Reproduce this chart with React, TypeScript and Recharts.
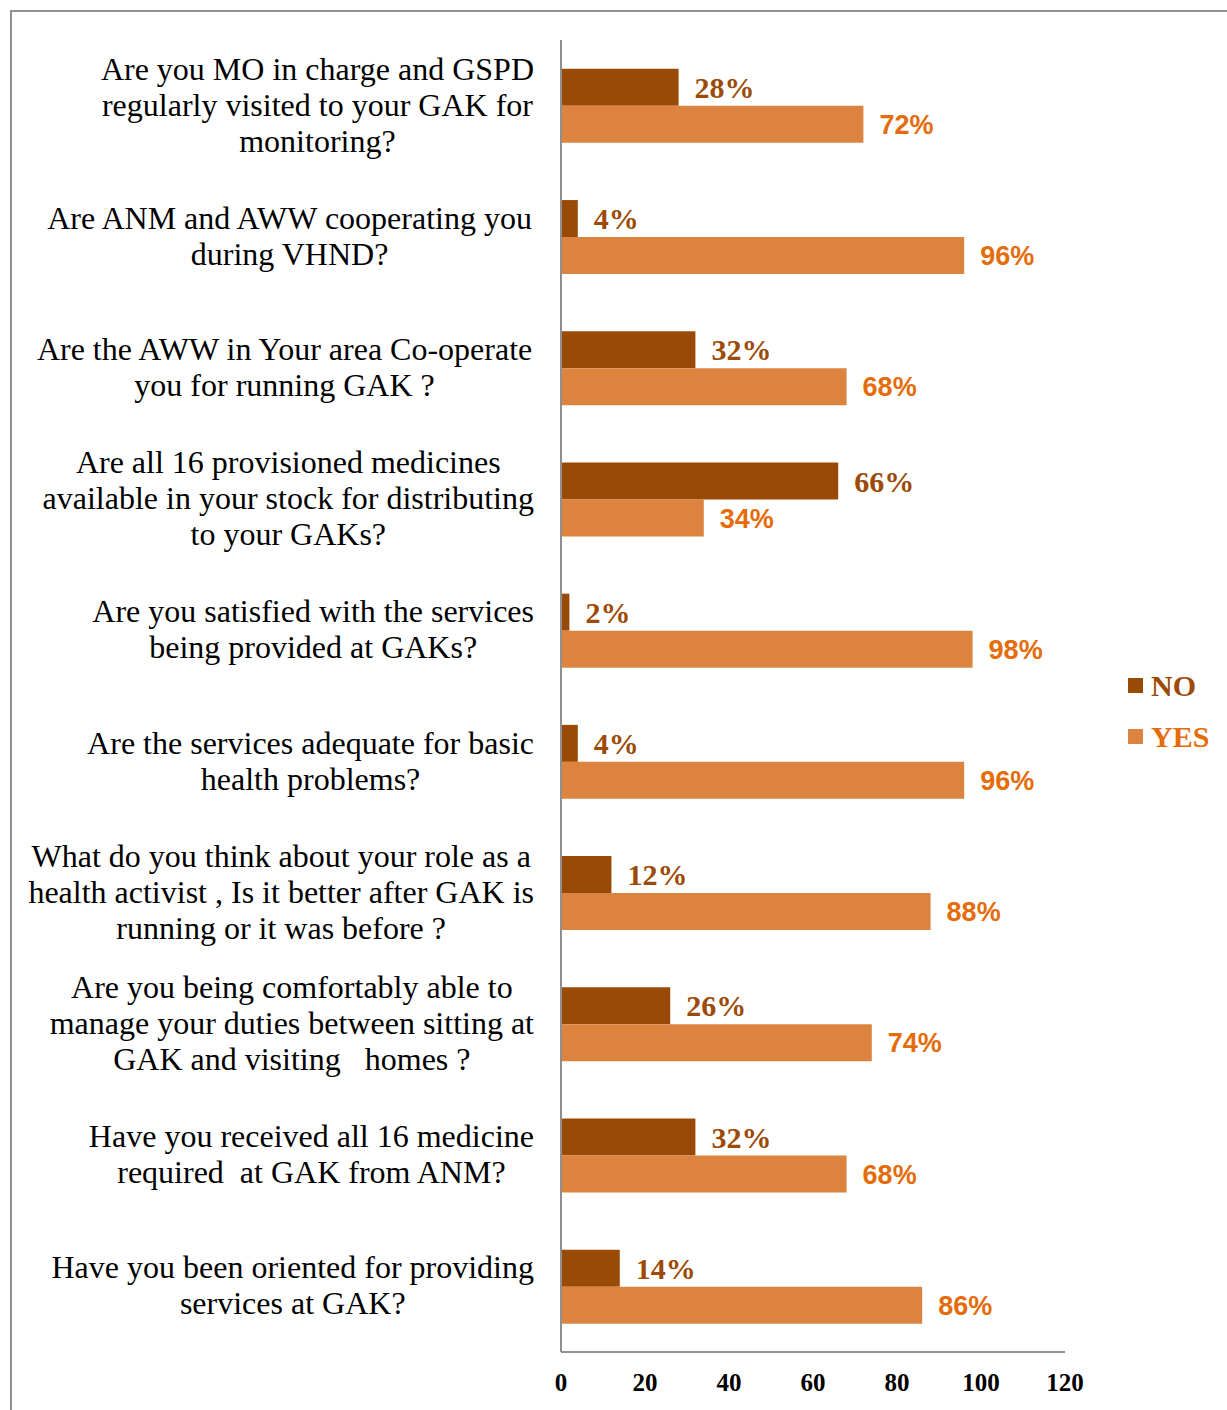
import React from "react";
import { BarChart, Bar, XAxis, YAxis, LabelList, Legend } from "recharts";

const categories = [
  "Are you MO in charge and GSPD\nregularly visited to your GAK for\nmonitoring?",
  "Are ANM and AWW cooperating you\nduring VHND?",
  "Are the AWW in Your area Co-operate\nyou for running GAK ?",
  "Are all 16 provisioned medicines\navailable in your stock for distributing\nto your GAKs?",
  "Are you satisfied with the services\nbeing provided at GAKs?",
  "Are the services adequate for basic\nhealth problems?",
  "What do you think about your role as a\nhealth activist , Is it better after GAK is\nrunning or it was before ?",
  "Are you being comfortably able to\nmanage your duties between sitting at\nGAK and visiting   homes ?",
  "Have you received all 16 medicine\nrequired  at GAK from ANM?",
  "Have you been oriented for providing\nservices at GAK?",
];

const noValues = [28, 4, 32, 66, 2, 4, 12, 26, 32, 14];
const yesValues = [72, 96, 68, 34, 98, 96, 88, 74, 68, 86];
const xTicks = [0, 20, 40, 60, 80, 100, 120];
const seriesNames = ["NO", "YES"];

const data = categories.map((c, i) => ({ name: c, no: noValues[i], yes: yesValues[i] }));

const NO_COLOR = "#9A4A07";
const YES_COLOR = "#DC843F";
const NO_TEXT = "#9C4A06";
const YES_TEXT = "#E46C0A";
const SERIF = "'Liberation Serif', 'Times New Roman', serif";
const SANS = "'Liberation Sans', Arial, sans-serif";

const LABEL_FONT_SIZE = 32;
const LABEL_RIGHT = 534;
const LINE_H = 36;

let ctx: CanvasRenderingContext2D | null = null;
function measure(text: string, font: string): number {
  if (!ctx) {
    const c = document.createElement("canvas");
    ctx = c.getContext("2d");
  }
  if (!ctx) return text.length * 14;
  ctx.font = font;
  return ctx.measureText(text).width;
}

const CategoryTick = (props: any) => {
  const { y, payload } = props;
  const lines: string[] = String(payload.value).split("\n");
  const font = `${LABEL_FONT_SIZE}px 'Liberation Serif'`;
  const maxW = Math.max(...lines.map((l) => measure(l, font)));
  const cx = LABEL_RIGHT - maxW / 2;
  const startY = y - 1 - ((lines.length - 1) * LINE_H) / 2;
  return (
    <g>
      {lines.map((l, i) => (
        <text
          key={i}
          x={cx}
          y={startY + i * LINE_H}
          textAnchor="middle"
          dominantBaseline="central"
          fontFamily={SERIF}
          fontSize={LABEL_FONT_SIZE}
          fill="#000"
          style={{ whiteSpace: "pre" }}
        >
          {l}
        </text>
      ))}
    </g>
  );
};

const NumberTick = (props: any) => {
  const { x, y, payload } = props;
  return (
    <text
      x={x}
      y={y + 22}
      textAnchor="middle"
      dominantBaseline="central"
      fontFamily={SERIF}
      fontWeight="bold"
      fontSize={25}
      fill="#000"
    >
      {payload.value}
    </text>
  );
};

const LegendContent = () => (
  <div style={{ display: "flex", flexDirection: "column", gap: 0 }}>
    {seriesNames.map((n, i) => (
      <div key={n} style={{ display: "flex", alignItems: "center", height: 51 }}>
        <div style={{ width: 15, height: 15, background: i === 0 ? NO_COLOR : YES_COLOR, marginRight: 8 }} />
        <span
          style={{
            fontFamily: SERIF,
            fontWeight: "bold",
            fontSize: 30,
            color: i === 0 ? NO_TEXT : YES_TEXT,
            lineHeight: "30px",
          }}
        >
          {n}
        </span>
      </div>
    ))}
  </div>
);

export default function App() {
  return (
    <div
      style={{
        position: "absolute",
        left: 0,
        top: 0,
        width: 1227,
        height: 1410,
        overflow: "hidden",
        background: "#fff",
      }}
    >
      <div
        style={{
          position: "absolute",
          left: 10,
          top: 10,
          width: 1400,
          height: 1600,
          border: "2px solid #8f8f8f",
        }}
      />
      <div style={{ position: "absolute", left: 0, top: 0 }}>
        <BarChart
          width={1227}
          height={1410}
          data={data}
          layout="vertical"
          margin={{ top: 40, right: 162, bottom: 28, left: 0 }}
          barCategoryGap="22%"
          barGap={0}
        >
          <XAxis
            type="number"
            domain={[0, 120]}
            ticks={xTicks}
            tickLine={false}
            axisLine={{ stroke: "#8f8f8f", strokeWidth: 2 }}
            tick={<NumberTick />}
            height={30}
          />
          <YAxis
            type="category"
            dataKey="name"
            width={561}
            tickLine={false}
            axisLine={{ stroke: "#8f8f8f", strokeWidth: 2 }}
            tick={<CategoryTick />}
            interval={0}
          />
          <Legend
            layout="horizontal"
            verticalAlign="middle"
            align="center"
            content={<LegendContent />}
            wrapperStyle={{ position: "absolute", left: 1128, top: 660, width: 99 }}
          />
          <Bar dataKey="no" name="NO" fill={NO_COLOR} isAnimationActive={false}>
            <LabelList
              dataKey="no"
              position="right"
              offset={16}
              formatter={(v: any) => `${v}%`}
              style={{ fontFamily: SERIF, fontWeight: "bold", fontSize: 30, fill: NO_TEXT }}
            />
          </Bar>
          <Bar dataKey="yes" name="YES" fill={YES_COLOR} isAnimationActive={false}>
            <LabelList
              dataKey="yes"
              position="right"
              offset={16}
              formatter={(v: any) => `${v}%`}
              style={{ fontFamily: SANS, fontWeight: "bold", fontSize: 27, fill: YES_TEXT }}
            />
          </Bar>
        </BarChart>
      </div>
    </div>
  );
}
